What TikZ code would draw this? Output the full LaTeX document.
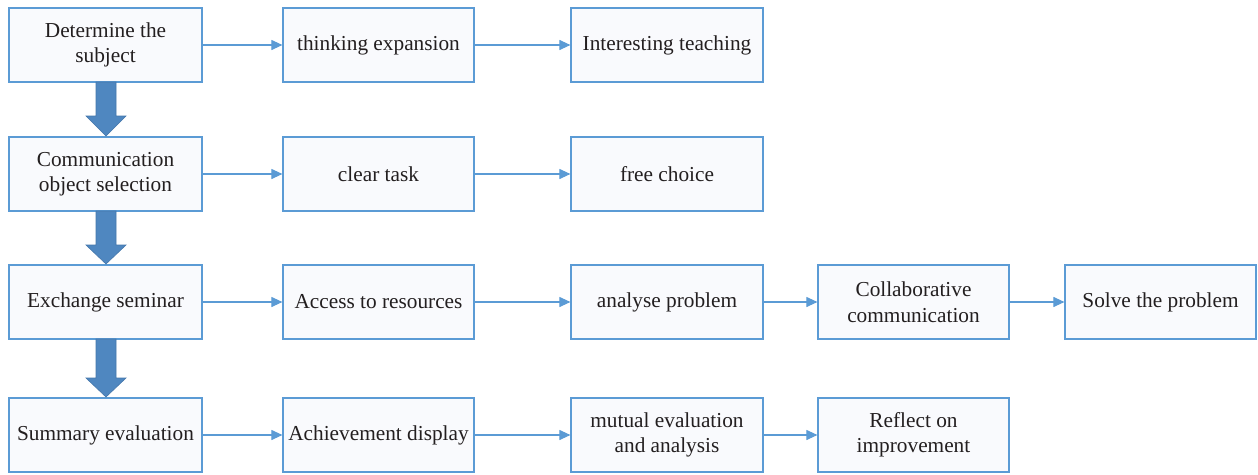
\documentclass[tikz,border=0pt]{standalone}
\usepackage{fontspec}
\setmainfont{Liberation Serif}
\usetikzlibrary{arrows.meta}
\definecolor{boxline}{HTML}{5B9BD5}
\definecolor{boxfill}{HTML}{F9FAFD}
\definecolor{bigarrow}{HTML}{4F87C0}
\definecolor{bigedge}{HTML}{4577AB}
\definecolor{txt}{HTML}{231F20}
\tikzset{
  stage/.style={draw=boxline, fill=boxfill, line width=1.2pt, minimum width=193pt,
    minimum height=74pt, inner sep=2pt, align=center, text=txt,
    font=\fontsize{21.3}{25.5}\selectfont},
  link/.style={draw=boxline, line width=1.1pt, -{Triangle[length=11pt,width=10pt]}},
  bigdown/.style={fill=bigarrow, draw=bigedge, line width=0.6pt}
}
\begin{document}
\begin{tikzpicture}[x=1pt,y=-1pt]
\useasboundingbox (0,0) rectangle (1258,474);
% first column: main stages
\node[stage] (s1) at (105.5,45) {Determine the\\subject};
\node[stage] (s2) at (105.5,174) {Communication\\object selection};
\node[stage] (s3) at (105.5,302) {Exchange seminar};
\node[stage] (s4) at (105.5,435) {Summary evaluation};
% row 1
\node[stage, minimum width=191pt] (a2) at (378.5,45) {thinking expansion};
\node[stage, minimum width=192pt] (a3) at (667,45) {Interesting teaching};
% row 2
\node[stage, minimum width=191pt] (b2) at (378.5,174) {clear task};
\node[stage, minimum width=192pt] (b3) at (667,174) {free choice};
% row 3
\node[stage, minimum width=191pt] (c2) at (378.5,302) {Access to resources};
\node[stage, minimum width=192pt] (c3) at (667,302) {analyse problem};
\node[stage, minimum width=191pt] (c4) at (913.5,302) {Collaborative\\communication};
\node[stage, minimum width=191pt] (c5) at (1160.5,302) {Solve the problem};
% row 4
\node[stage, minimum width=191pt] (d2) at (378.5,435) {Achievement display};
\node[stage, minimum width=192pt] (d3) at (667,435) {mutual evaluation\\and analysis};
\node[stage, minimum width=191pt] (d4) at (913.5,435) {Reflect on\\improvement};
% horizontal links
\draw[link] (s1) -- (a2);
\draw[link] (a2) -- (a3);
\draw[link] (s2) -- (b2);
\draw[link] (b2) -- (b3);
\draw[link] (s3) -- (c2);
\draw[link] (c2) -- (c3);
\draw[link] (c3) -- (c4);
\draw[link] (c4) -- (c5);
\draw[link] (s4) -- (d2);
\draw[link] (d2) -- (d3);
\draw[link] (d3) -- (d4);
% block arrows between the main stages
\foreach \top/\neck/\tip in {82/116/136, 211/245/264, 339/378/397}{
  \draw[bigdown] (96,\top) -- (116,\top) -- (116,\neck) -- (126,\neck)
    -- (106,\tip) -- (86,\neck) -- (96,\neck) -- cycle;
}
\end{tikzpicture}
\end{document}
